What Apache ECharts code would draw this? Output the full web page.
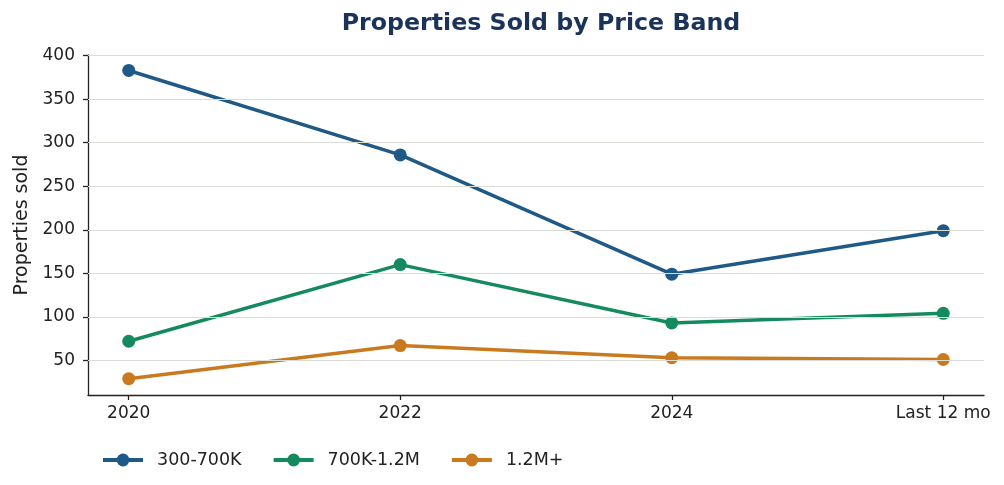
<!DOCTYPE html>
<html><head><meta charset="utf-8">
<script src="https://cdn.jsdelivr.net/npm/echarts@6/dist/echarts.min.js"></script>
<style>html,body{margin:0;padding:0;background:#fff}#c{width:1004px;height:485px}</style>
</head><body><div id="c"></div>
<script>
const categories = ['2020', '2022', '2024', 'Last 12 mo'];
const band300to700K = [383, 286, 149, 199];
const band700Kto1_2M = [72, 160, 93, 104];
const band1_2Mplus = [29, 67, 53, 51];
const seriesNames = ['300-700K', '700K-1.2M', '1.2M+'];
const yTicks = [50, 100, 150, 200, 250, 300, 350, 400];
const colors = ['#1f5985', '#158a5e', '#c97a1e'];

const chart = echarts.init(document.getElementById('c'), null, {renderer: 'canvas'});
const font = 'DejaVu Sans';
const xIdx = categories.map((c, i) => i);
function mk(name, vals, color) {
  return {
    name, type: 'line', data: vals.map((v, i) => [xIdx[i], v]), symbol: 'circle', symbolSize: 13,
    lineStyle: {width: 3.5, color}, itemStyle: {color}, color, z: 3,
    emphasis: {disabled: true}, animation: false
  };
}
chart.setOption({
  animation: false,
  title: {text: 'Properties Sold by Price Band', left: 536, textAlign: 'center', top: 7,
    textStyle: {fontFamily: font, fontWeight: 'bold', fontSize: 23.7, color: '#1b3358'}},
  grid: {left: 88, right: 20, top: 55, bottom: 90},
  legend: {left: 96, top: 446, itemWidth: 40, itemHeight: 16, itemGap: 30,
    lineStyle: {width: 4},
    textStyle: {fontFamily: font, fontSize: 17.5, color: '#222', padding: [0, 0, 0, 9]},
    data: seriesNames},
  xAxis: {type: 'value', min: -0.15, max: 3.15,
    axisLine: {show: true, onZero: false, lineStyle: {color: '#222', width: 1.3}},
    axisTick: {show: true, customValues: xIdx, length: 5, lineStyle: {color: '#222', width: 1.3}},
    axisLabel: {customValues: xIdx, formatter: v => categories[Math.round(v)], fontFamily: font, fontSize: 17, color: '#222', margin: 10},
    splitLine: {show: false}},
  yAxis: {type: 'value', min: 10.25, max: 400.75,
    name: 'Properties sold', nameLocation: 'middle', nameGap: 50, nameRotate: 90,
    nameTextStyle: {fontFamily: font, fontSize: 19, color: '#222'},
    axisLine: {show: true, onZero: false, lineStyle: {color: '#222', width: 1.3}},
    axisTick: {show: true, customValues: yTicks, length: 5, lineStyle: {color: '#222', width: 1.3}},
    axisLabel: {customValues: yTicks, fontFamily: font, fontSize: 17, color: '#222', margin: 13},
    splitLine: {show: false}},
  series: [
    {name: 'grid', type: 'line', data: [], z: 1, silent: true,
      markLine: {silent: true, symbol: 'none', label: {show: false}, animation: false,
        lineStyle: {color: '#dcdcd6', width: 1, type: 'solid'}, emphasis: {disabled: true},
        data: yTicks.map(v => ({yAxis: v}))}},
    mk(seriesNames[0], band300to700K, colors[0]),
    mk(seriesNames[1], band700Kto1_2M, colors[1]),
    mk(seriesNames[2], band1_2Mplus, colors[2])
  ]
});
</script></body></html>
